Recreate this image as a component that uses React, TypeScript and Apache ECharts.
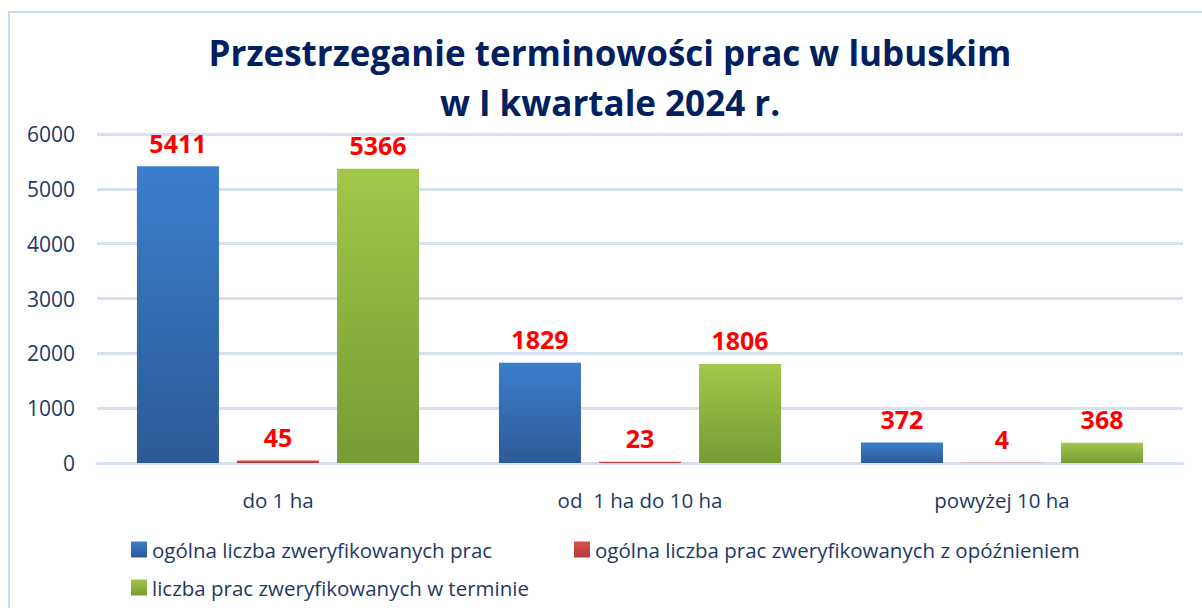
import React, { useEffect, useRef } from "react";
import * as echarts from "echarts";

const categories = ["do 1 ha", "od  1 ha do 10 ha", "powyżej 10 ha"];
const seriesNames = [
  "ogólna liczba zweryfikowanych prac",
  "ogólna liczba prac zweryfikowanych z opóźnieniem",
  "liczba prac zweryfikowanych w terminie",
];
const totalVerified = [5411, 1829, 372];
const delayed = [45, 23, 4];
const onTime = [5366, 1806, 368];
const yTicks = { min: 0, max: 6000, interval: 1000 };

const FONT = "Open Sans";
const NAVY = "#1F3864";

const grad = (top: string, bottom: string) =>
  new echarts.graphic.LinearGradient(0, 0, 0, 1, [
    { offset: 0, color: top },
    { offset: 1, color: bottom },
  ]);

export default function App() {
  const ref = useRef<HTMLDivElement>(null);
  useEffect(() => {
    if (!ref.current) return;
    const chart = echarts.init(ref.current, undefined, { renderer: "svg" });
    const label = {
      show: true,
      position: "top" as const,
      distance: 11,
      color: "#FF0000",
      fontFamily: FONT,
      fontWeight: "bold" as const,
      fontSize: 25,
    };
    const legendText = { color: NAVY, fontFamily: FONT, fontSize: 20.5 };
    const legendBase = {
      icon: "rect",
      itemWidth: 16,
      itemHeight: 16,
      textStyle: legendText,
      padding: 0,
    };
    chart.setOption({
      animation: false,
      backgroundColor: "#ffffff",
      title: {
        text: "Przestrzeganie terminowości prac w lubuskim\nw I kwartale 2024 r.",
        left: 605,
        textAlign: "center",
        top: 22,
        textStyle: {
          color: "#002060",
          fontFamily: FONT,
          fontWeight: "bold",
          fontSize: 35,
          lineHeight: 50,
        },
      },
      graphic: [
        {
          type: "rect",
          shape: { x: 9, y: 12, width: 1200, height: 610 },
          style: { fill: "none", stroke: "#C9D9EE", lineWidth: 2 },
          silent: true,
        },
      ],
      grid: { left: 97, right: 19, top: 134, bottom: 145 },
      xAxis: {
        type: "category",
        data: categories,
        axisLine: { show: true, lineStyle: { color: "#D5E0F0", width: 3 } },
        axisTick: { show: false },
        axisLabel: {
          color: NAVY,
          fontFamily: FONT,
          fontSize: 20.5,
          margin: 26,
        },
      },
      yAxis: {
        type: "value",
        min: yTicks.min,
        max: yTicks.max,
        interval: yTicks.interval,
        axisLine: { show: false },
        axisTick: { show: false },
        splitLine: { lineStyle: { color: "#D5E0F0", width: 3 } },
        axisLabel: {
          color: NAVY,
          fontFamily: FONT,
          fontSize: 21,
          margin: 22,
          formatter: (v: number) => String(v),
        },
      },
      legend: [
        { ...legendBase, data: [seriesNames[0]], left: 131, top: 539 },
        { ...legendBase, data: [seriesNames[1]], left: 574, top: 539 },
        { ...legendBase, data: [seriesNames[2]], left: 131, top: 577 },
      ],
      series: [
        {
          name: seriesNames[0],
          type: "bar",
          data: totalVerified,
          barWidth: 82,
          barGap: "22%",
          itemStyle: { color: grad("#3B7ECC", "#2C5A97") },
          label,
        },
        {
          name: seriesNames[1],
          type: "bar",
          data: delayed,
          barWidth: 82,
          barGap: "22%",
          itemStyle: { color: grad("#D9504C", "#B33A37") },
          label,
        },
        {
          name: seriesNames[2],
          type: "bar",
          data: onTime,
          barWidth: 82,
          barGap: "22%",
          itemStyle: { color: grad("#A2C74A", "#789A36") },
          label,
        },
      ],
    });
    return () => chart.dispose();
  }, []);
  return (
    <div
      ref={ref}
      style={{ position: "fixed", left: 0, top: 0, width: 1202, height: 608 }}
    />
  );
}
